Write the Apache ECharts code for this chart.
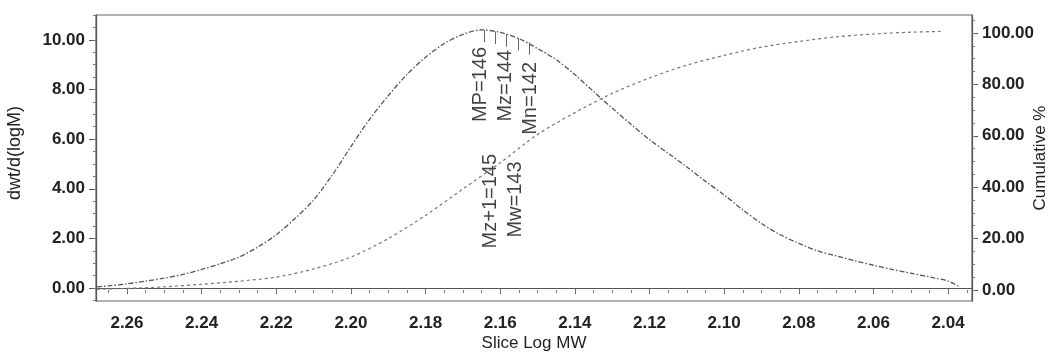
<!DOCTYPE html>
<html><head><meta charset="utf-8">
<script src="https://cdn.jsdelivr.net/npm/echarts@6/dist/echarts.min.js"></script>
<style>html,body{margin:0;padding:0;background:#fff}#c{width:1051px;height:352px}</style>
</head><body><div id="c"></div>
<script>
// Slice Log MW positions of the distribution curve
const logMW = [2.268, 2.265, 2.26, 2.255, 2.25, 2.245, 2.24, 2.235, 2.23, 2.225, 2.22, 2.215, 2.21, 2.205, 2.20, 2.195, 2.19, 2.185, 2.18, 2.175, 2.17, 2.165, 2.16, 2.155, 2.15, 2.145, 2.14, 2.135, 2.13, 2.125, 2.12, 2.115, 2.11, 2.105, 2.10, 2.095, 2.09, 2.085, 2.08, 2.075, 2.07, 2.065, 2.06, 2.055, 2.05, 2.045, 2.04, 2.037];
// dwt/d(logM)
const dwtValues = [0.05, 0.09, 0.17, 0.28, 0.4, 0.55, 0.75, 0.98, 1.25, 1.65, 2.15, 2.8, 3.55, 4.55, 5.7, 6.8, 7.75, 8.6, 9.3, 9.85, 10.22, 10.4, 10.3, 10.05, 9.65, 9.2, 8.6, 7.92, 7.25, 6.6, 5.98, 5.43, 4.88, 4.3, 3.75, 3.15, 2.6, 2.15, 1.8, 1.5, 1.3, 1.1, 0.92, 0.75, 0.6, 0.45, 0.28, 0.05];
// Cumulative %
const cumLogMW = [2.268, 2.26, 2.25, 2.24, 2.23, 2.22, 2.21, 2.20, 2.19, 2.18, 2.17, 2.16, 2.15, 2.14, 2.13, 2.12, 2.11, 2.10, 2.09, 2.08, 2.07, 2.06, 2.05, 2.042];
const cumValues = [0.3, 0.6, 1.2, 2.2, 3.4, 5.0, 8.2, 12.8, 20.0, 29.0, 39.3, 49.5, 60.5, 69.0, 76.5, 82.5, 87.5, 91.3, 94.5, 96.7, 98.5, 99.6, 100.3, 100.6];

const xTicks = [2.26, 2.24, 2.22, 2.20, 2.18, 2.16, 2.14, 2.12, 2.10, 2.08, 2.06, 2.04];
const leftTicks = [0, 2, 4, 6, 8, 10];
const rightTicks = [0, 20, 40, 60, 80, 100];

// molecular weight averages
const markerLogMW = [2.1644, 2.1614, 2.1584, 2.1553, 2.1523];
const markerTop = [10.4, 10.33, 10.22, 10.07, 9.9];
const labelNames = ['MP=146', 'Mz+1=145', 'Mz=144', 'Mw=143', 'Mn=142'];
const labelLogMW = [2.1654, 2.1627, 2.1587, 2.1560, 2.1520];
const labelLevel = [8.2, 3.5, 8.15, 3.57, 7.64];

const FONT = '"Liberation Sans", Arial, Helvetica, sans-serif';
const xMin = 2.0336, xMax = 2.2683;
const lMin = -0.52, lMax = 11.0;
const rMin = -4.3, rMax = 107.0;

const xMinor = [];
for (let v = 2.035; v <= 2.2681; v += 0.005) xMinor.push(+v.toFixed(3));
const lMinor = [];
for (let v = -0.5; v <= 11.0; v += 0.5) lMinor.push(+v.toFixed(2));
const rMinor = [];
for (let v = 0; v <= 105; v += 5) rMinor.push(v);

const axisColor = '#555';
const labelStyle = {color: '#222', fontFamily: FONT, fontSize: 17, fontWeight: 'bold'};

const chart = echarts.init(document.getElementById('c'), null, {renderer: 'canvas'});
chart.setOption({
  animation: false,
  backgroundColor: '#fff',
  grid: {left: 96, right: 79, top: 15, bottom: 51, containLabel: false, outerBoundsMode: 'none',
    show: true, borderColor: '#666', borderWidth: 1.2, backgroundColor: 'transparent'},
  xAxis: [{
    type: 'value', min: xMin, max: xMax, inverse: true,
    name: 'Slice Log MW', nameLocation: 'middle', nameGap: 34, nameMoveOverlap: false,
    nameTextStyle: {color: '#222', fontFamily: FONT, fontSize: 17},
    axisLine: {show: true, lineStyle: {color: axisColor, width: 1.2}},
    axisTick: {show: true, length: 6, lineStyle: {color: axisColor}, customValues: xTicks},
    axisLabel: Object.assign({margin: 14, customValues: xTicks, formatter: v => (+v).toFixed(2)}, labelStyle),
    splitLine: {show: false}
  }, {
    type: 'value', min: xMin, max: xMax, inverse: true, position: 'bottom',
    axisLine: {show: false},
    axisTick: {show: true, length: 3, lineStyle: {color: '#777'}, customValues: xMinor},
    axisLabel: {show: false}, splitLine: {show: false}
  }],
  yAxis: [{
    type: 'value', min: lMin, max: lMax, position: 'left',
    name: 'dwt/d(logM)', nameLocation: 'middle', nameGap: 72, nameRotate: 90, nameMoveOverlap: false,
    nameTextStyle: {color: '#222', fontFamily: FONT, fontSize: 18, padding: [0, 0, 0, 10]},
    axisLine: {show: true, lineStyle: {color: axisColor, width: 1.2}},
    axisTick: {show: true, length: 7, lineStyle: {color: axisColor}, customValues: leftTicks},
    axisLabel: Object.assign({margin: 11, customValues: leftTicks, formatter: v => (+v).toFixed(2)}, labelStyle),
    splitLine: {show: false}
  }, {
    type: 'value', min: rMin, max: rMax, position: 'right',
    name: 'Cumulative %', nameLocation: 'middle', nameGap: 60, nameRotate: 90, nameMoveOverlap: false,
    nameTextStyle: {color: '#222', fontFamily: FONT, fontSize: 17},
    axisLine: {show: true, lineStyle: {color: axisColor, width: 1.2}},
    axisTick: {show: true, length: 6, lineStyle: {color: axisColor}, customValues: rightTicks},
    axisLabel: Object.assign({margin: 10, customValues: rightTicks, formatter: v => (+v).toFixed(2)}, labelStyle),
    splitLine: {show: false}
  }, {
    type: 'value', min: lMin, max: lMax, position: 'left',
    axisLine: {show: false},
    axisTick: {show: true, length: 3, lineStyle: {color: '#777'}, customValues: lMinor},
    axisLabel: {show: false}, splitLine: {show: false}
  }, {
    type: 'value', min: rMin, max: rMax, position: 'right',
    axisLine: {show: false},
    axisTick: {show: true, length: 3, lineStyle: {color: '#777'}, customValues: rMinor},
    axisLabel: {show: false}, splitLine: {show: false}
  }],
  series: [{
    name: 'dwt/d(logM)', type: 'line', xAxisIndex: 0, yAxisIndex: 0,
    data: logMW.map((x, i) => [x, dwtValues[i]]),
    smooth: 0.3, showSymbol: false, symbol: 'none',
    lineStyle: {color: '#555', width: 1.3, type: [5, 2, 1.5, 2]},
    markLine: {
      silent: true, symbol: 'none', label: {show: false},
      lineStyle: {color: '#666', width: 1, type: 'solid'},
      data: markerLogMW.map((x, i) => [{coord: [x, markerTop[i]]}, {coord: [x, markerTop[i] - 0.5]}])
    },
    z: 3
  }, {
    name: 'Cumulative %', type: 'line', xAxisIndex: 0, yAxisIndex: 1,
    data: cumLogMW.map((x, i) => [x, cumValues[i]]),
    smooth: 0.3, showSymbol: false, symbol: 'none',
    lineStyle: {color: '#777', width: 1.2, type: [3, 3]},
    z: 2
  }, {
    name: 'averages', type: 'scatter', xAxisIndex: 0, yAxisIndex: 0,
    symbolSize: 0, silent: true,
    data: labelLogMW.map((x, i) => ({value: [x, labelLevel[i]], name: labelNames[i]})),
    label: {show: true, position: 'inside', rotate: 90, formatter: p => p.name,
      color: '#111', fontFamily: FONT, fontSize: 20, backgroundColor: 'transparent'},
    z: 5
  }]
});
</script></body></html>
